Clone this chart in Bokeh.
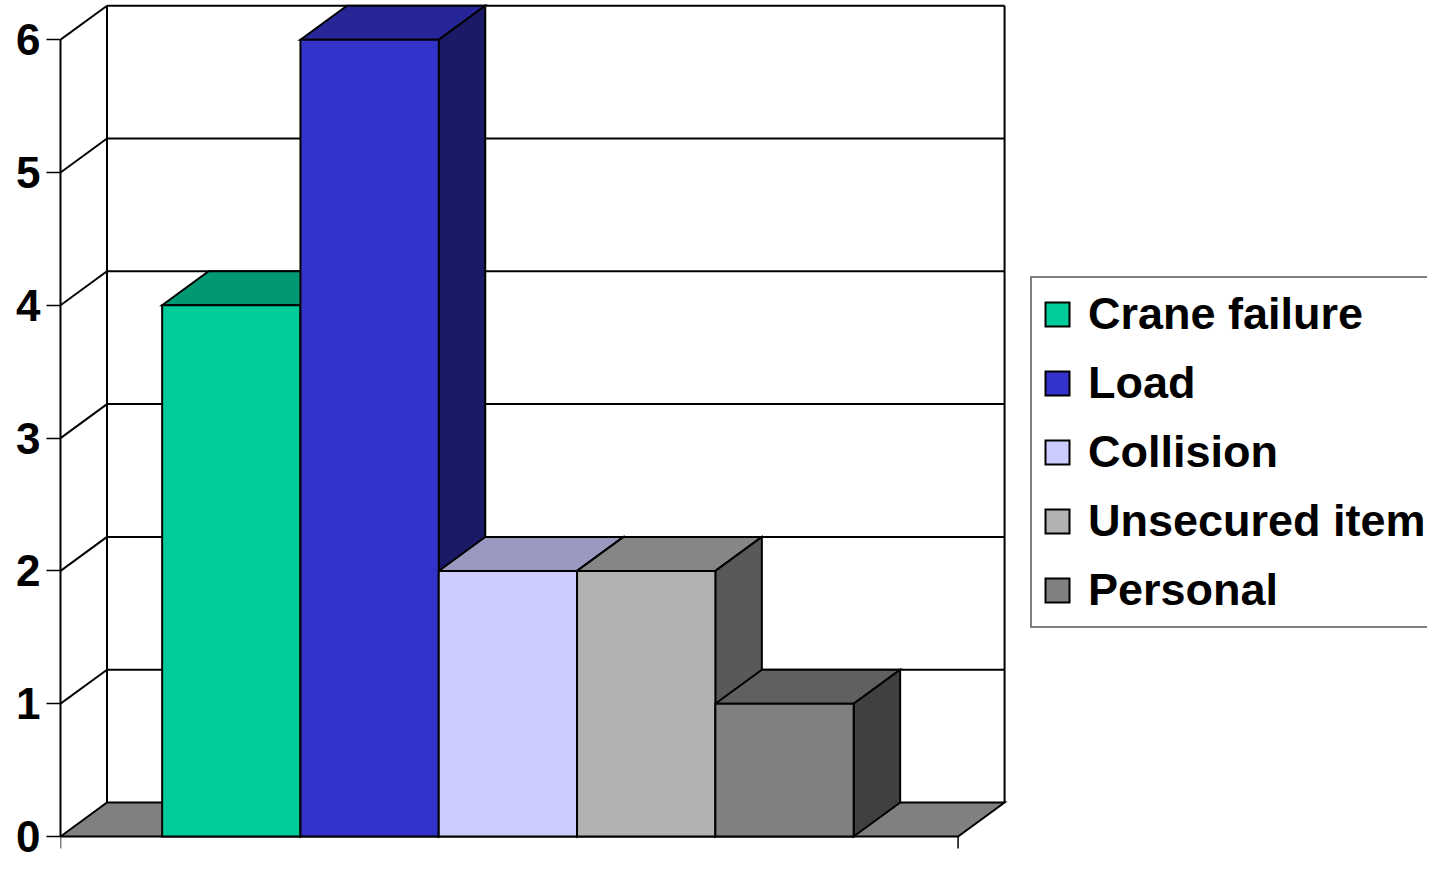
from bokeh.plotting import figure
from bokeh.models import ColumnDataSource, FixedTicker, Legend, LegendItem, Range1d
from bokeh.embed import file_html
from bokeh.resources import INLINE

# ---- data ----
categories = ["Crane failure", "Load", "Collision", "Unsecured item", "Personal"]
counts = [4, 6, 2, 2, 1]
front_colors = ["#00CC99", "#3333CC", "#CCCCFF", "#B2B2B2", "#808080"]
y_ticks = [0, 1, 2, 3, 4, 5, 6]
floor_color = "#808080"

# ---- geometry (pixels -> data units) ----
W, H = 1427, 861
BORDER_L = 60
PX_X = 138.3          # px per bar width
PX_Y = 132.8          # px per count
Y0_PX = 836           # canvas px (from top) of value 0
SPAN = 6.49           # category axis span in bar widths
GAP_L = 0.735         # left gap in bar widths
DX = 46.5 / PX_X      # depth offset
DY = 34.0 / PX_Y
YMAX = max(y_ticks)

x_end = (W - BORDER_L) / PX_X
y_start = -(H - Y0_PX) / PX_Y
y_end = Y0_PX / PX_Y


def shade(hexc, f):
    rgb = [int(hexc[i:i + 2], 16) for i in (1, 3, 5)]
    return "#%02x%02x%02x" % tuple(int(round(c * f)) for c in rgb)


FONT = "Liberation Sans"

p = figure(width=W, height=H, x_range=Range1d(0, x_end), y_range=Range1d(y_start, y_end),
           output_backend="svg", toolbar_location=None,
           x_axis_location=None, y_axis_location="left",
           min_border_left=BORDER_L, min_border_right=0, min_border_top=0, min_border_bottom=0,
           outline_line_color=None, background_fill_color="white", border_fill_color="white")
p.grid.grid_line_color = None

ax = p.yaxis[0]
ax.ticker = FixedTicker(ticks=y_ticks)
ax.bounds = (0, YMAX)
ax.axis_line_width = 2
ax.axis_line_color = "black"
ax.major_tick_out = 14
ax.major_tick_in = 0
ax.minor_tick_out = 0
ax.minor_tick_in = 0
ax.major_tick_line_width = 1.5
ax.major_label_text_font = FONT
ax.major_label_text_font_style = "bold"
ax.major_label_text_font_size = "44px"
ax.major_label_text_color = "black"
ax.major_label_standoff = 6

# ---- back wall & side wall lines ----
gx0, gy0, gx1, gy1 = [], [], [], []
for v in y_ticks:
    if v > 0:
        gx0.append(DX); gy0.append(v + DY); gx1.append(SPAN + DX); gy1.append(v + DY)
        gx0.append(0); gy0.append(v); gx1.append(DX); gy1.append(v + DY)
gx0 += [DX, SPAN + DX]; gy0 += [DY, DY]; gx1 += [DX, SPAN + DX]; gy1 += [YMAX + DY, YMAX + DY]
p.segment(x0=gx0, y0=gy0, x1=gx1, y1=gy1, line_color="black", line_width=2)

# ---- floor ----
p.patch(x=[0, SPAN, SPAN + DX, DX], y=[0, 0, DY, DY], fill_color=floor_color,
        line_color="black", line_width=2, line_join="miter")

# bottom category-axis ticks
p.segment(x0=[0, SPAN], y0=[0, 0], x1=[0, SPAN], y1=[-12 / PX_Y, -12 / PX_Y],
          line_color="black", line_width=1.5)

# ---- bars: top and side faces (left to right), then fronts ----
x0s = [GAP_L + i for i in range(len(categories))]
x1s = [x + 1 for x in x0s]
fxs, fys, fcols = [], [], []
for x0, x1, h, c in zip(x0s, x1s, counts, front_colors):
    fxs.append([x0, x1, x1 + DX, x0 + DX]); fys.append([h, h, h + DY, h + DY]); fcols.append(shade(c, 0.75))
    fxs.append([x1, x1 + DX, x1 + DX, x1]); fys.append([0, DY, h + DY, h]); fcols.append(shade(c, 0.5))
p.patches(xs="xs", ys="ys", fill_color="fc", line_color="black", line_width=2, line_join="miter",
          source=ColumnDataSource(dict(xs=fxs, ys=fys, fc=fcols)))

src = ColumnDataSource(dict(left=x0s, right=x1s, top=counts, bottom=[0] * len(counts),
                            color=front_colors, cat=categories))
fronts = p.quad(left="left", right="right", top="top", bottom="bottom", fill_color="color",
                line_color="black", line_width=2, line_join="miter", source=src)

# ---- legend ----
items = [LegendItem(label=c, renderers=[fronts], index=i) for i, c in enumerate(categories)]
leg = Legend(items=items, location=(970, 233), margin=0, padding=10, spacing=17,
             glyph_width=30, glyph_height=30, label_standoff=16, label_height=30,
             label_text_font=FONT, label_text_font_style="bold", label_text_font_size="45px",
             label_text_color="black", border_line_color="black", border_line_width=2,
             background_fill_color="white", background_fill_alpha=1.0)
p.add_layout(leg)

open("out.html", "w").write(file_html(p, INLINE))
